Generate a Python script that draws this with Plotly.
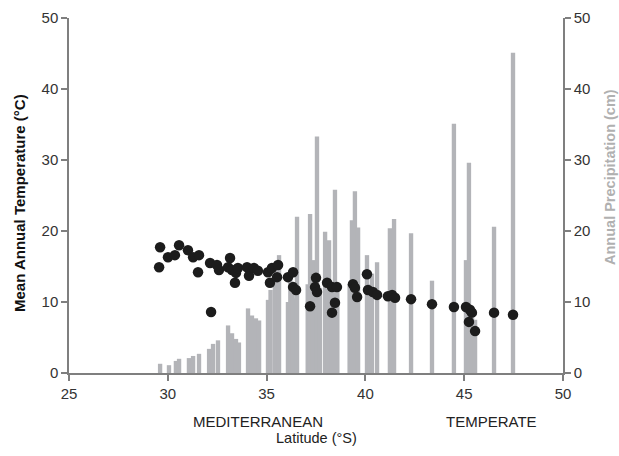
import plotly.graph_objects as go

# Precipitation bars (latitude °S, annual precipitation cm)
precip_lat = [29.61, 30.06, 30.41, 30.57, 31.07, 31.28, 31.58, 32.09, 32.29, 32.54,
              33.05, 33.25, 33.45, 33.60, 34.06, 34.26, 34.46, 34.62, 35.07, 35.20,
              35.42, 35.63, 36.08, 36.20, 36.32, 36.42, 36.54, 37.08, 37.20, 37.35,
              37.55, 37.70, 37.96, 38.08, 38.16, 38.30, 38.46, 38.58, 39.20, 39.32,
              39.47, 39.63, 40.08, 40.20, 40.33, 40.59, 41.24, 41.45, 42.31, 43.37,
              44.48, 45.09, 45.24, 45.40, 45.55, 46.51, 47.47]
precip_val = [1.3, 1.1, 1.7, 2.0, 2.1, 2.4, 2.7, 3.4, 4.1, 4.6,
              6.7, 5.6, 4.8, 4.3, 9.1, 8.1, 7.7, 7.4, 10.3, 11.7,
              15.5, 16.6, 10.0, 13.5, 12.0, 10.5, 22.0, 12.5, 22.4, 15.9,
              33.3, 12.0, 19.9, 13.0, 18.7, 11.5, 25.8, 12.0, 12.5, 21.5,
              25.6, 20.5, 16.6, 12.5, 14.0, 15.6, 20.4, 21.7, 19.7, 13.0,
              35.1, 15.9, 29.6, 7.8, 7.5, 20.6, 45.1]

# Mean annual temperature points (latitude °S, °C)
temp_lat = [29.56, 29.61, 30.01, 30.36, 30.57, 31.02, 31.28, 31.58, 31.53, 32.14,
            32.19, 32.49, 32.59, 33.15, 33.05, 33.25, 33.40, 33.45, 33.55, 34.01,
            34.11, 34.36, 34.56, 35.07, 35.17, 35.27, 35.53, 35.58, 36.08, 36.34,
            36.34, 36.49, 37.20, 37.50, 37.45, 37.55, 38.06, 38.31, 38.56, 38.46,
            38.31, 39.37, 39.47, 39.58, 40.08, 40.13, 40.38, 40.59, 41.14, 41.35,
            41.50, 42.31, 43.37, 44.48, 45.09, 45.29, 45.39, 45.24, 45.55, 46.51,
            47.47]
temp_val = [14.9, 17.7, 16.3, 16.6, 18.0, 17.3, 16.3, 16.6, 14.2, 15.5,
            8.6, 15.2, 14.5, 16.2, 14.9, 14.5, 12.7, 14.1, 14.8, 14.9,
            13.7, 14.8, 14.4, 14.2, 12.7, 14.8, 13.5, 15.2, 13.5, 14.2,
            12.1, 11.7, 9.4, 13.4, 12.1, 11.4, 12.7, 12.1, 12.1, 9.9,
            8.5, 12.5, 12.0, 10.7, 13.9, 11.7, 11.4, 11.0, 10.8, 11.0,
            10.6, 10.4, 9.7, 9.3, 9.3, 8.9, 8.5, 7.2, 5.9, 8.5,
            8.2]

x_ticks = [25, 30, 35, 40, 45, 50]
y_ticks = [0, 10, 20, 30, 40, 50]
zone_labels = ["MEDITERRANEAN", "TEMPERATE"]
zone_centers = [34.56, 46.36]

FONT = "Arial, Liberation Sans, sans-serif"
AXIS_COLOR = "#7f7f7f"
BAR_COLOR = "#b3b4b8"

fig = go.Figure()
fig.add_trace(go.Bar(x=precip_lat, y=precip_val, width=0.22, marker_color=BAR_COLOR,
                     marker_line_width=0, yaxis="y2", showlegend=False))
fig.add_trace(go.Scatter(x=temp_lat, y=temp_val, mode="markers", yaxis="y",
                         marker=dict(size=10.5, color="#1c1c1c"), showlegend=False))

axis_common = dict(showgrid=False, zeroline=False, showline=True, linecolor=AXIS_COLOR,
                   linewidth=1.5, ticks="outside", ticklen=6, tickcolor=AXIS_COLOR,
                   tickwidth=1.5, automargin=False,
                   tickfont=dict(family=FONT, size=15, color="#333333"))

fig.update_layout(
    width=619, height=456,
    margin=dict(l=69, r=56, t=18, b=83),
    paper_bgcolor="white", plot_bgcolor="white",
    barmode="overlay",
    xaxis=dict(range=[25, 50], tickvals=x_ticks, **axis_common),
    yaxis2=dict(range=[0, 50], tickvals=y_ticks, side="right", **axis_common),
    yaxis=dict(range=[0, 50], tickvals=y_ticks, side="left", overlaying="y2", **axis_common),
)

for label, cx in zip(zone_labels, zone_centers):
    fig.add_annotation(x=cx, xref="x", y=-0.138, yref="paper", text=label, showarrow=False,
                       font=dict(family=FONT, size=15, color="#222222"), yanchor="middle")

fig.add_annotation(x=0.5, xref="paper", y=-0.183, yref="paper", text="Latitude (°S)",
                   showarrow=False, yanchor="middle",
                   font=dict(family=FONT, size=14.5, color="#222222"))
fig.add_annotation(x=-0.099, xref="paper", y=0.479, yref="paper",
                   text="<b>Mean Annual Temperature (°C)</b>", textangle=-90,
                   showarrow=False, xanchor="center", yanchor="middle",
                   font=dict(family=FONT, size=15, color="#111111"))
fig.add_annotation(x=1.095, xref="paper", y=0.552, yref="paper",
                   text="<b>Annual Precipitation (cm)</b>", textangle=-90,
                   showarrow=False, xanchor="center", yanchor="middle",
                   font=dict(family=FONT, size=14.5, color="#b0b0b0"))

fig.write_html("out.html", config={"displayModeBar": False},
               post_script="document.body.style.margin='0';document.body.style.overflow='hidden';")
